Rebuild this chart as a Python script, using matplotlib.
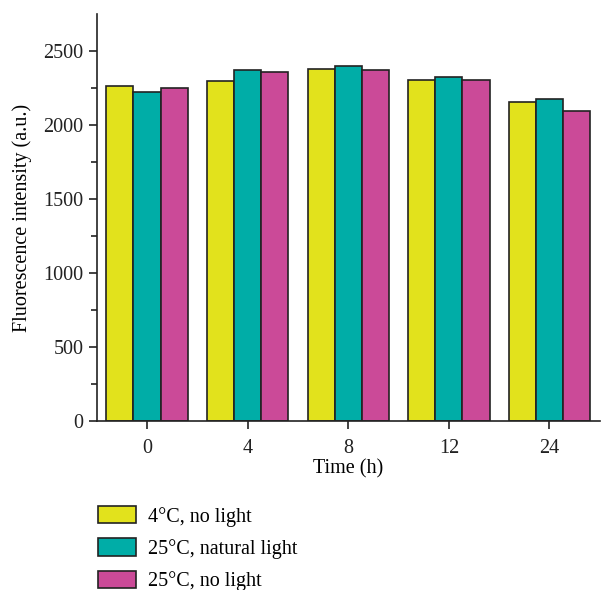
import numpy as np
import matplotlib.pyplot as plt

plt.rcParams['font.family'] = ['Liberation Serif', 'DejaVu Serif']

# data
times = ['0', '4', '8', '12', '24']
cold_dark = [2264, 2300, 2381, 2302, 2158]
warm_light = [2223, 2372, 2403, 2325, 2180]
warm_dark = [2252, 2360, 2374, 2307, 2095]
labels = ['4°C, no light', '25°C, natural light', '25°C, no light']
colors = ['#e2e21c', '#00ada7', '#cb4a98']

fig = plt.figure(figsize=(6.01, 5.9), dpi=100)
ax = fig.add_axes([0.161, 0.286, 0.837, 0.69])

x = np.arange(len(times))
w = 0.27
for i, (vals, lab, c) in enumerate(zip([cold_dark, warm_light, warm_dark], labels, colors)):
    ax.bar(x + (i - 1) * w, vals, w, color=c, edgecolor='#222222', linewidth=1.2, label=lab)

fs = 14.5
ax.set_xlim(-0.5, 4.5)
ax.set_ylim(0, 2750)
ax.set_xticks(x)
ax.set_xticklabels(times)
ax.set_yticks(np.arange(0, 2501, 500))
ax.set_yticks(np.arange(250, 2750, 500), minor=True)
ax.tick_params(direction='out', labelsize=fs, length=6, width=1.2, colors='#222222')
ax.tick_params(which='minor', direction='out', length=4, width=1.2, colors='#222222')
ax.tick_params(axis='x', pad=7)
for s in ['top', 'right']:
    ax.spines[s].set_visible(False)
for s in ['left', 'bottom']:
    ax.spines[s].set_linewidth(1.2)
    ax.spines[s].set_color('#222222')
ax.set_xlabel('Time (h)', fontsize=fs, labelpad=1)
ax.set_ylabel('Fluorescence intensity (a.u.)', fontsize=fs, labelpad=8)

fig.legend(loc='upper left', bbox_to_anchor=(0.149, 0.156), frameon=False,
           fontsize=fs, handlelength=1.9, handleheight=0.95, labelspacing=0.58,
           handletextpad=0.6, borderaxespad=0)

fig.savefig('out.png', dpi=100)
